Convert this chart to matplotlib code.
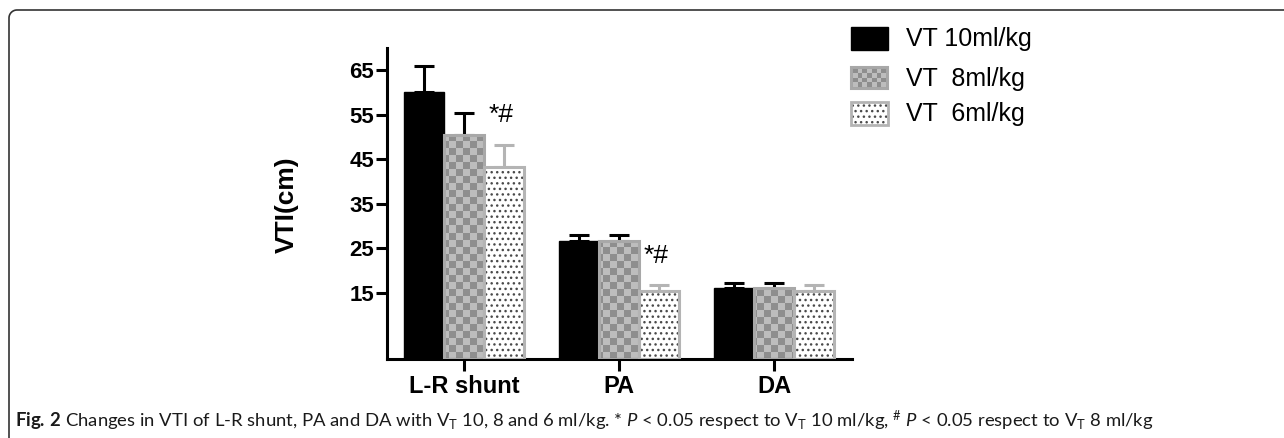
import numpy as np
import matplotlib
matplotlib.use("Agg")
import matplotlib.pyplot as plt
from matplotlib.colors import ListedColormap
from matplotlib.patches import Rectangle

categories = ["L-R shunt", "PA", "DA"]
vt10 = [60.1, 26.5, 16.1]
vt10_err = [5.8, 1.5, 1.0]
vt8 = [50.4, 26.5, 16.1]
vt8_err = [4.9, 1.5, 1.0]
vt6 = [43.3, 15.4, 15.4]
vt6_err = [5.0, 1.2, 1.3]
series_labels = ["VT 10ml/kg", "VT  8ml/kg", "VT  6ml/kg"]
y_ticks = [15, 25, 35, 45, 55, 65]
sig_groups = [0, 1]   # groups marked "*#"

plt.rcParams["font.family"] = ["Liberation Sans", "DejaVu Sans"]
plt.rcParams["mathtext.fontset"] = "custom"
plt.rcParams["mathtext.rm"] = "Lato"
plt.rcParams["mathtext.it"] = "Lato:italic"
plt.rcParams["mathtext.bf"] = "Lato:bold"

W_PX, H_PX = 1284, 438
fig = plt.figure(figsize=(W_PX / 100, H_PX / 100), dpi=100)
ax = fig.add_axes([386.7 / W_PX, 1 - 359.3 / H_PX, 465 / W_PX, 311.3 / H_PX])
ax.set_facecolor("none")

CHECK = ListedColormap(["#8e8e8e", "#bdbdbd"])
x = np.arange(len(categories))
w = 40 / 155

# VT 10 - solid black
ax.bar(x - w, vt10, w, color="black", edgecolor="black", linewidth=1, zorder=2)
ax.errorbar(x - w, vt10, yerr=[np.zeros(3), vt10_err], fmt="none", ecolor="black",
            elinewidth=2.2, capsize=7, capthick=2.2, zorder=1)

# VT 8 - grey checkerboard
b8 = ax.bar(x, vt8, w, color="#a6a6a6", edgecolor="none", zorder=2)
cell_x, cell_y = 7 / 155, 7 / 4.447
nr, nc = 46, 68
checker = np.indices((nr, nc)).sum(axis=0) % 2
for bar in b8:
    im = ax.imshow(checker, cmap=CHECK, interpolation="nearest", aspect="auto",
                   extent=(-0.5, -0.5 + nc * cell_x, 0, nr * cell_y), origin="lower", zorder=2.5)
    im.set_clip_path(bar)
ax.bar(x, vt8, w, fill=False, edgecolor="#a8a8a8", linewidth=2.2, zorder=3)
ax.errorbar(x, vt8, yerr=[np.zeros(3), vt8_err], fmt="none", ecolor="black",
            elinewidth=2.2, capsize=7, capthick=2.2, zorder=1)

# VT 6 - white with dots
ax.bar(x + w, vt6, w, color="white", edgecolor="#4a4a4a", hatch="...", linewidth=0, zorder=2)
ax.bar(x + w, vt6, w, fill=False, edgecolor="#b4b4b4", linewidth=2.2, zorder=3)
ax.errorbar(x + w, vt6, yerr=[np.zeros(3), vt6_err], fmt="none", ecolor="#b4b4b4",
            elinewidth=2.2, capsize=7, capthick=2.2, zorder=1)

for g in sig_groups:
    ax.text(g + w - 0.023, vt6[g] + vt6_err[g] + 6.7, "*#", fontsize=19,
            ha="center", va="center")

ax.set_xlim(-0.5, 2.5)
ax.set_ylim(0, 70)
ax.set_xticks(x, categories, fontsize=17, fontweight="bold")
ax.set_yticks(y_ticks, [str(t) for t in y_ticks], fontsize=16, fontweight="bold")
ax.tick_params(axis="y", width=2.2, length=8, pad=1)
ax.tick_params(axis="x", width=2.2, length=8.5, pad=3)
for s in ["top", "right"]:
    ax.spines[s].set_visible(False)
for s in ["left", "bottom"]:
    ax.spines[s].set_linewidth(2.2)

fig.text(287 / W_PX, 1 - 205 / H_PX, "VTI(cm)", rotation=90, fontsize=19,
         fontweight="bold", ha="center", va="center")

# overlay in pixel coords: legend + frame
ov = fig.add_axes([0, 0, 1, 1])
ov.axis("off")
ov.set_facecolor("none")

ov.add_patch(Rectangle((851, 27), 37, 23, facecolor="black", edgecolor="black", lw=1))
ov.add_patch(Rectangle((851, 67), 37, 22, facecolor="#a6a6a6", edgecolor="#a8a8a8", lw=1.5))
im = ov.imshow(np.indices((4, 7)).sum(axis=0) % 2, cmap=CHECK, interpolation="nearest",
               extent=(853, 886, 87, 69), aspect="auto", zorder=3)
ov.add_patch(Rectangle((851, 102), 37, 23, facecolor="white", edgecolor="#4a4a4a",
                       hatch="...", lw=0))
ov.add_patch(Rectangle((851, 102), 37, 23, fill=False, edgecolor="#b4b4b4", lw=2))
for lab, yc in zip(series_labels, [39, 79, 114]):
    ov.text(906, yc, lab, fontsize=18, ha="left", va="center")

# rounded frame (left + top only)
r = 8
t = np.linspace(np.pi, 1.5 * np.pi, 20)
fx = np.concatenate([[9], 9 + r + r * np.cos(t), [W_PX]])
fy = np.concatenate([[H_PX], 10 + r + r * np.sin(t), [10]])
ov.plot(fx, fy, color="#333333", lw=1.2, solid_capstyle="butt")
ov.set_xlim(0, W_PX)
ov.set_ylim(H_PX, 0)

caption = (r"$\mathbf{Fig.\,2}$ Changes in VTI of L-R shunt, PA and DA with V$_\mathrm{T}$ 10, 8 and 6 ml/kg."
           r" * $P$ < 0.05 respect to V$_\mathrm{T}$ 10 ml/kg, $^\#$ $P$ < 0.05 respect to V$_\mathrm{T}$ 8 ml/kg")
fig.text(15 / W_PX, 1 - 421 / H_PX, caption, fontsize=13.3, family="Lato",
         ha="left", va="center", color="#1a1a1a")

fig.savefig("out.png", dpi=100)
